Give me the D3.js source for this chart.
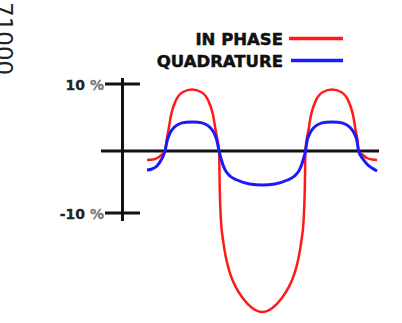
<!DOCTYPE html>
<html>
<head>
<meta charset="utf-8">
<script src="https://cdn.jsdelivr.net/npm/d3@7"></script>
<style>
  html, body { margin: 0; padding: 0; background: #fff; overflow: hidden; }
  svg { display: block; }
</style>
</head>
<body>
<svg id="chart" width="402" height="323"></svg>
<script>
// position along the scan (arbitrary units 0-100) and signal in %
const inPhasePos = [0, 2.6, 4.8, 6.5,
  7.8, 8.5, 9.3, 10.4, 12.6, 15.6, 19.5, 23.4, 26.4, 28.6, 29.7, 30.5,
  31.2, 31.5, 32.0, 32.9, 34.2, 35.9, 38.5, 41.6, 45.4, 49.9, 54.4, 58.2, 61.3, 63.9, 65.6, 66.9, 67.8, 68.3,
  68.6, 69.1, 69.9, 71.0, 73.2, 76.2, 80.1, 84.0, 87.0, 89.2, 90.3, 91.1,
  91.6, 93.5, 95.2, 97.4, 99.6];
const inPhase = [-1.45, -1.37, -1.05, -0.56,
  0, 1.64, 3.13, 5.37, 7.61, 8.81, 9.18, 8.81, 7.61, 5.37, 3.13, 1.64,
  0, -6.29, -11.13, -14.35, -17.26, -19.68, -22.0, -23.8, -25.3, -25.97, -25.3, -23.8, -22.0, -19.68, -17.26, -14.35, -11.13, -6.29,
  0, 1.64, 3.13, 5.37, 7.61, 8.81, 9.18, 8.81, 7.61, 5.37, 3.13, 1.64,
  0, -0.65, -1.13, -1.37, -1.45];

const quadPos = [0, 2.2, 4.3, 6.1,
  7.8, 8.7, 10.0, 11.7, 13.9, 16.9, 19.5, 22.1, 25.1, 27.3, 29.0, 30.3,
  31.2, 32.2, 33.8, 35.9, 39.0, 44.4, 49.9, 55.4, 60.8, 63.9, 66.0, 67.6,
  68.6, 69.3, 70.6, 72.3, 74.5, 77.5, 80.1, 82.7, 85.7, 87.9, 89.6, 90.9,
  91.6, 93.5, 95.2, 97.4, 99.6];
const quadrature = [-3.06, -2.9, -2.42, -1.45,
  0, 1.49, 2.69, 3.51, 4.03, 4.28, 4.33, 4.28, 4.03, 3.51, 2.69, 1.49,
  0, -1.45, -3.06, -4.03, -4.68, -5.32, -5.48, -5.32, -4.68, -4.03, -3.06, -1.45,
  0, 1.49, 2.69, 3.51, 4.03, 4.28, 4.33, 4.28, 4.03, 3.51, 2.69, 1.49,
  0, -1.29, -2.1, -2.74, -3.23];

const yTicks = [10, -10];
const yTickLabels = ["10 ", "-10 "];
const seriesNames = ["IN PHASE", "QUADRATURE"];
const seriesColors = ["#ff1a1a", "#1a1aff"];
const sideLabel = "71000";

const svg = d3.select("#chart");

const x = d3.scaleLinear().domain([0, 100]).range([147, 378]);
const y = d3.scaleLinear().domain([-10, 0, 10]).range([213, 151, 84]);

// side label, rotated, partly cut off at the left edge
svg.append("text")
  .attr("transform", "translate(-4,2) rotate(90)")
  .attr("font-family", "DejaVu Sans")
  .attr("font-size", 23)
  .attr("fill", "#222")
  .text(sideLabel);

// axes
const axisColor = "#111";
svg.append("line")
  .attr("x1", 101).attr("x2", 379)
  .attr("y1", y(0)).attr("y2", y(0))
  .attr("stroke", axisColor).attr("stroke-width", 3);
svg.append("line")
  .attr("x1", 122.5).attr("x2", 122.5)
  .attr("y1", y(10) - 6).attr("y2", y(-10) + 8)
  .attr("stroke", axisColor).attr("stroke-width", 3);

const ticks = svg.append("g");
ticks.selectAll("line")
  .data(yTicks)
  .join("line")
  .attr("x1", 105).attr("x2", 140)
  .attr("y1", d => y(d)).attr("y2", d => y(d))
  .attr("stroke", axisColor).attr("stroke-width", 3);

const tickText = ticks.selectAll("text")
  .data(yTicks)
  .join("text")
  .attr("x", 104)
  .attr("y", d => y(d) + 5.5)
  .attr("text-anchor", "end")
  .attr("font-family", "DejaVu Sans")
  .attr("font-weight", "bold")
  .attr("font-size", 14)
  .attr("fill", "#222")
  .attr("stroke", "#222")
  .attr("stroke-width", 0.3);
tickText.append("tspan").text((d, i) => yTickLabels[i]);
tickText.append("tspan").attr("fill", "#777").attr("stroke", "#777").text("%");

// curves
const line = d3.line()
  .x(d => x(d[0]))
  .y(d => y(d[1]))
  .curve(d3.curveMonotoneX);

svg.append("path")
  .datum(inPhasePos.map((p, i) => [p, inPhase[i]]))
  .attr("d", line)
  .attr("fill", "none")
  .attr("stroke", seriesColors[0])
  .attr("stroke-width", 2.5);

svg.append("path")
  .datum(quadPos.map((p, i) => [p, quadrature[i]]))
  .attr("d", line)
  .attr("fill", "none")
  .attr("stroke", seriesColors[1])
  .attr("stroke-width", 3);

// legend
const legend = svg.append("g");
const legendY = [38.5, 60.5];
legend.selectAll("text")
  .data(seriesNames)
  .join("text")
  .attr("x", 283)
  .attr("y", (d, i) => legendY[i] + 6)
  .attr("text-anchor", "end")
  .attr("font-family", "DejaVu Sans")
  .attr("font-weight", "bold")
  .attr("font-size", 16.5)
  .attr("fill", "#111")
  .attr("stroke", "#111")
  .attr("stroke-width", 0.5)
  .text(d => d);
legend.selectAll("line")
  .data(seriesNames)
  .join("line")
  .attr("x1", (d, i) => i === 0 ? 289 : 291)
  .attr("x2", 343)
  .attr("y1", (d, i) => legendY[i])
  .attr("y2", (d, i) => legendY[i])
  .attr("stroke", (d, i) => seriesColors[i])
  .attr("stroke-width", 3.5);
</script>
</body>
</html>
